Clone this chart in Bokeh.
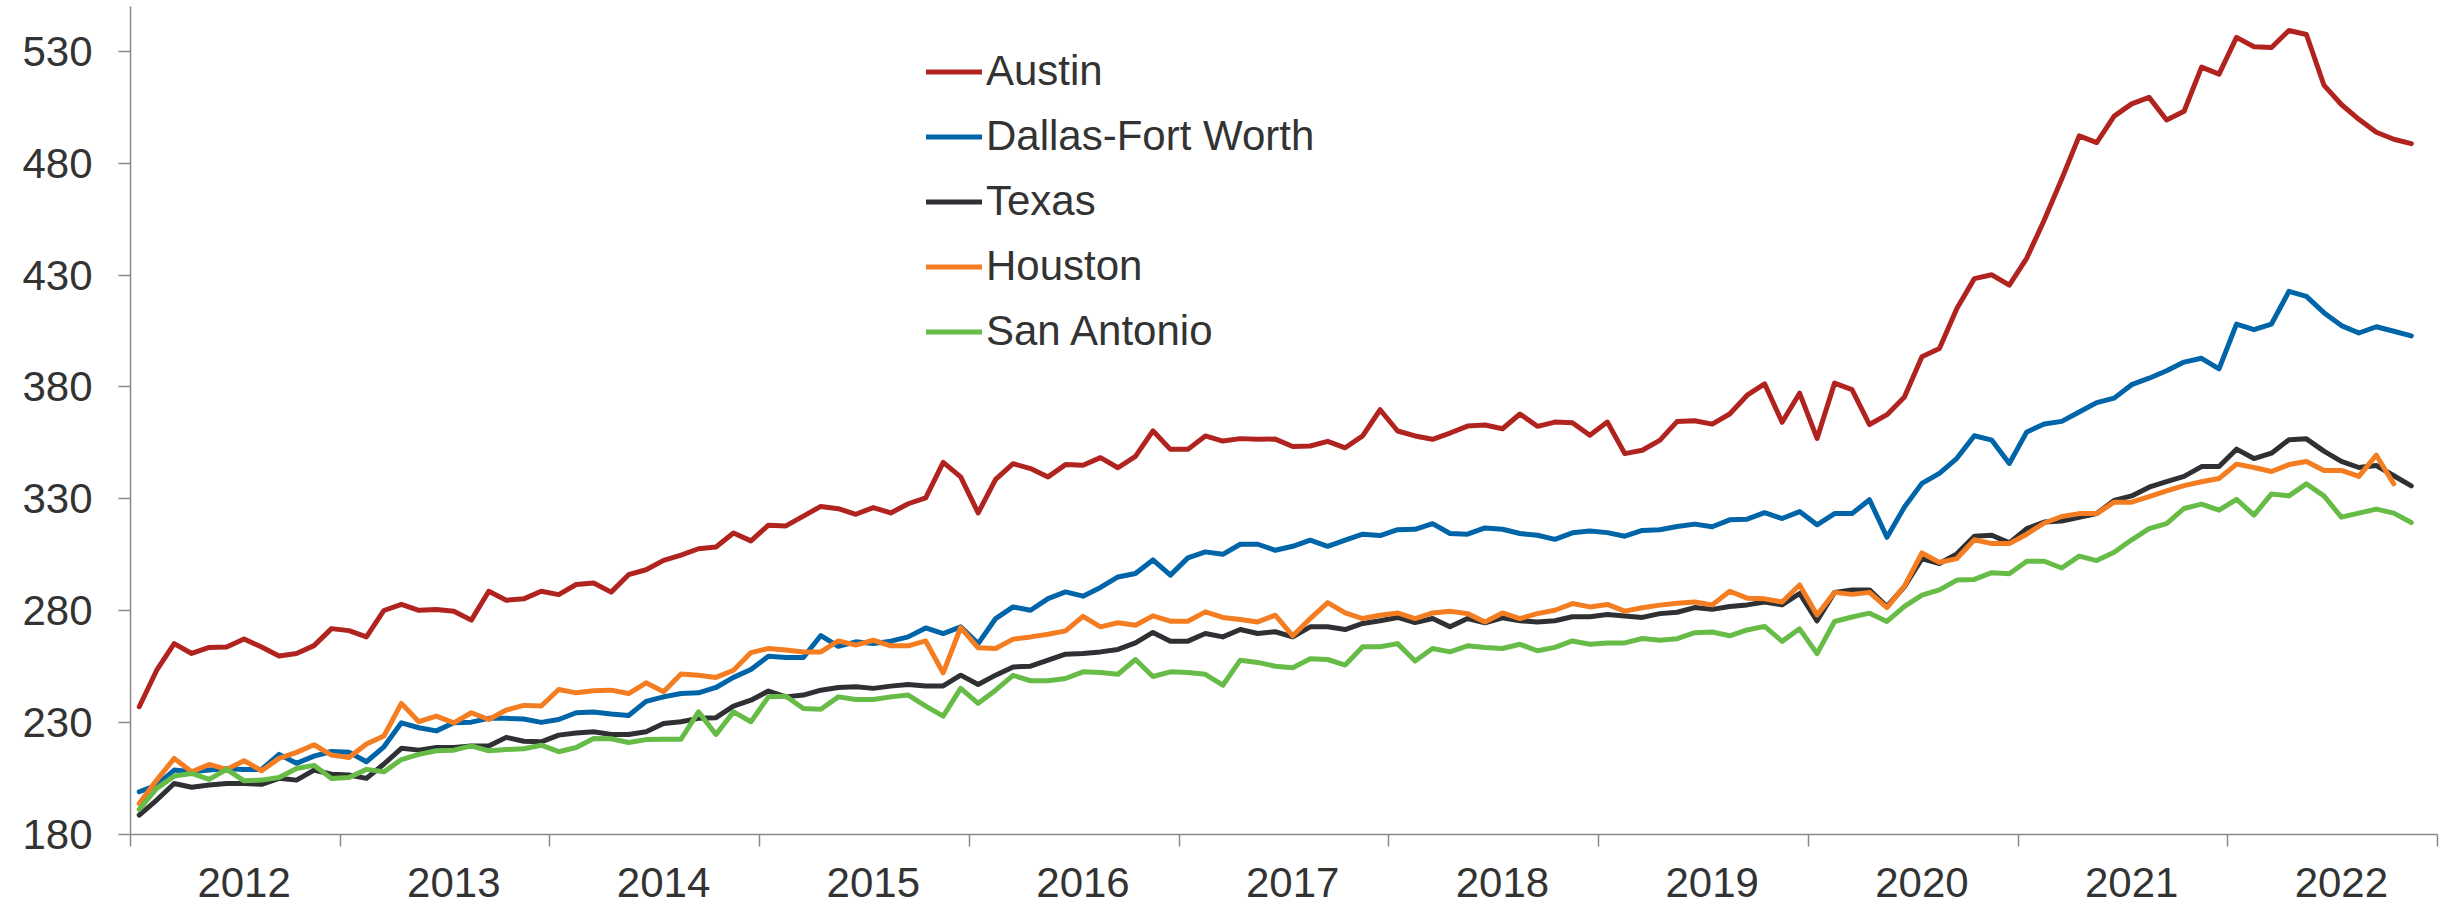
from bokeh.plotting import figure
from bokeh.models import Range1d, FixedTicker, Legend, LegendItem
from bokeh.embed import file_html
from bokeh.resources import INLINE

# Monthly index values, Jan 2012 .. Nov 2022 (Houston through Oct 2022)
austin = [237.1, 253.4, 265.3, 260.9, 263.6, 263.8, 267.4, 263.8, 259.8, 260.9, 264.4, 272.0,
          271.1, 268.3, 280.1, 282.8, 280.2, 280.5, 279.8, 275.8, 288.7, 284.7, 285.3, 288.7,
          287.2, 291.7, 292.4, 288.3, 296.1, 298.3, 302.5, 304.8, 307.7, 308.5, 314.7, 311.2,
          318.2, 317.9, 322.3, 326.6, 325.6, 323.1, 326.1, 323.7, 327.8, 330.4, 346.3, 339.8,
          323.7, 338.7, 345.7, 343.5, 339.8, 345.3, 345.0, 348.4, 343.9, 349.0, 360.4, 352.1,
          352.1, 358.1, 355.8, 356.9, 356.6, 356.7, 353.4, 353.6, 355.7, 352.8, 358.1, 369.8,
          360.3, 358.1, 356.6, 359.4, 362.5, 363.0, 361.3, 367.9, 362.4, 364.3, 364.0, 358.4,
          364.3, 350.2, 351.7, 356.1, 364.6, 364.9, 363.4, 367.9, 376.3, 381.4, 364.2, 377.2,
          357.0, 381.7, 378.8, 363.2, 367.6, 375.5, 393.5, 397.2, 415.0, 428.4, 430.1, 425.5,
          437.6, 454.6, 472.9, 492.2, 489.2, 501.0, 506.5, 509.4, 499.3, 503.2, 522.9, 519.8,
          536.2, 532.0, 531.7, 539.3, 537.5, 514.9, 506.2, 499.6, 493.8, 490.7, 488.7]
dallas = [199.1, 202.1, 208.8, 208.0, 208.8, 209.4, 209.1, 209.1, 215.8, 211.8, 215.0, 217.1,
          216.8, 212.5, 219.2, 229.9, 227.7, 226.3, 229.9, 230.2, 231.9, 231.9, 231.6, 230.1,
          231.4, 234.4, 234.7, 233.8, 233.2, 239.5, 241.5, 243.0, 243.3, 245.7, 250.2, 253.7,
          259.7, 259.1, 259.1, 268.9, 264.1, 266.1, 265.3, 266.4, 268.3, 272.3, 269.8, 272.8,
          265.3, 276.5, 281.7, 280.2, 285.4, 288.4, 286.5, 290.4, 295.1, 296.6, 302.7, 295.9,
          303.6, 306.3, 305.2, 309.7, 309.7, 307.0, 308.8, 311.5, 308.8, 311.5, 314.2, 313.6,
          316.2, 316.4, 318.9, 314.5, 314.2, 317.0, 316.4, 314.5, 313.7, 311.9, 314.8, 315.6,
          314.9, 313.3, 315.9, 316.2, 317.6, 318.7, 317.5, 320.6, 320.9, 323.8, 321.2, 324.3,
          318.4, 323.4, 323.4, 329.6, 312.8, 326.3, 336.9, 341.4, 348.1, 358.2, 356.2, 345.8,
          359.9, 363.4, 364.6, 368.8, 373.0, 375.0, 381.0, 383.9, 387.2, 391.1, 392.8, 388.1,
          408.1, 405.6, 408.1, 422.7, 420.5, 413.2, 407.4, 404.1, 406.9, 404.9, 402.8]
texas = [188.7, 195.4, 202.8, 201.1, 202.1, 202.8, 202.8, 202.4, 205.1, 204.3, 208.8, 206.9,
         206.6, 205.1, 211.5, 218.5, 217.7, 218.9, 218.9, 219.5, 219.5, 223.4, 221.7, 221.4,
         224.4, 225.4, 225.9, 224.7, 224.7, 225.9, 229.6, 230.4, 231.9, 232.2, 237.4, 240.0,
         244.1, 241.5, 242.3, 244.5, 245.7, 246.0, 245.3, 246.3, 247.0, 246.4, 246.4, 251.2,
         247.0, 251.2, 254.9, 255.2, 257.9, 260.6, 260.9, 261.6, 262.7, 265.6, 270.3, 266.4,
         266.4, 269.8, 268.3, 271.6, 269.8, 270.6, 268.3, 272.8, 272.8, 271.6, 274.3, 275.5,
         277.0, 274.7, 276.5, 272.8, 276.5, 274.6, 276.8, 275.5, 275.0, 275.5, 277.3, 277.3,
         278.3, 277.6, 277.0, 278.7, 279.3, 281.4, 280.6, 281.9, 282.6, 283.9, 282.6, 287.7,
         275.5, 288.2, 289.3, 289.3, 281.9, 290.7, 303.3, 301.1, 305.4, 313.3, 313.7, 310.3,
         316.7, 319.6, 320.1, 321.7, 323.4, 329.3, 331.3, 335.2, 337.7, 340.0, 344.4, 344.4,
         352.2, 348.0, 350.4, 356.4, 356.8, 351.3, 346.7, 344.0, 344.9, 340.3, 335.8]
houston = [193.9, 204.3, 214.0, 208.0, 211.3, 209.1, 213.0, 208.5, 214.0, 216.7, 220.1, 215.5,
           214.4, 220.4, 224.0, 238.6, 230.4, 232.9, 229.9, 234.4, 231.4, 235.6, 237.7, 237.4,
           244.8, 243.3, 244.2, 244.5, 243.0, 247.8, 243.8, 251.7, 251.2, 250.2, 253.4, 261.3,
           263.1, 262.4, 261.6, 261.6, 266.5, 264.6, 266.8, 264.3, 264.3, 266.5, 252.2, 272.5,
           263.4, 263.1, 267.3, 268.3, 269.5, 271.0, 277.5, 272.8, 274.6, 273.5, 277.7, 275.3,
           275.3, 279.5, 277.0, 276.1, 275.0, 278.0, 268.8, 276.5, 283.6, 279.0, 276.5, 278.0,
           279.0, 276.5, 279.0, 279.8, 278.7, 275.0, 279.0, 276.5, 278.7, 280.2, 283.2, 281.7,
           282.8, 279.8, 281.3, 282.5, 283.3, 283.9, 282.6, 288.7, 285.6, 285.3, 283.9, 291.5,
           278.1, 288.2, 287.3, 288.2, 281.4, 291.0, 305.8, 301.6, 303.3, 311.7, 310.0, 310.0,
           314.2, 319.2, 322.1, 323.4, 323.4, 328.5, 328.5, 331.0, 333.5, 335.9, 337.6, 339.1,
           345.5, 344.0, 342.2, 345.3, 346.7, 342.7, 342.7, 340.0, 349.5, 336.7]
san_antonio = [191.2, 200.6, 206.1, 207.3, 204.6, 209.1, 204.0, 204.3, 205.5, 209.5, 210.9, 205.0,
               205.5, 209.1, 208.0, 213.5, 215.8, 217.4, 217.7, 219.6, 217.4, 218.0, 218.3, 219.9,
               217.0, 218.9, 222.9, 222.8, 221.1, 222.4, 222.6, 222.6, 234.8, 224.7, 234.8, 230.4,
               241.5, 241.8, 236.3, 236.0, 241.5, 240.3, 240.3, 241.5, 242.3, 237.4, 232.9, 245.3,
               238.6, 244.5, 251.1, 248.7, 248.7, 249.7, 252.7, 252.4, 251.6, 258.2, 250.6, 252.7,
               252.4, 251.6, 246.7, 257.9, 256.9, 255.2, 254.5, 258.5, 258.2, 255.7, 263.9, 263.9,
               265.3, 257.5, 263.1, 261.6, 264.3, 263.6, 263.1, 265.0, 262.1, 263.6, 266.5, 265.0,
               265.6, 265.6, 267.6, 266.8, 267.5, 270.2, 270.5, 268.8, 271.4, 273.0, 266.3, 271.9,
               260.8, 275.2, 277.2, 278.9, 275.2, 281.9, 287.0, 289.3, 293.7, 294.0, 297.0, 296.5,
               302.1, 302.1, 299.1, 304.4, 302.4, 306.1, 311.7, 316.7, 318.9, 325.7, 327.6, 324.9,
               329.8, 322.7, 332.2, 331.3, 336.7, 331.3, 321.8, 323.6, 325.4, 323.6, 319.4]

years = ["2012", "2013", "2014", "2015", "2016", "2017", "2018", "2019", "2020", "2021", "2022"]
y_ticks = [180, 230, 280, 330, 380, 430, 480, 530]

series = [
    ("Austin", austin, "#B0231F"),
    ("Dallas-Fort Worth", dallas, "#0064A8"),
    ("Texas", texas, "#2E3033"),
    ("Houston", houston, "#F47D22"),
    ("San Antonio", san_antonio, "#67BC47"),
]

FONT = "Liberation Sans"
TXT = "#333333"
AX = "#8a8a8a"

n_months = 12 * len(years)
p = figure(width=2461, height=904, x_range=Range1d(0, n_months), y_range=Range1d(180, 550),
           output_backend="svg", toolbar_location=None,
           min_border_left=130, min_border_right=24, min_border_top=6, min_border_bottom=70)
p.outline_line_color = None
p.xgrid.visible = False
p.ygrid.visible = False

items = []
for name, vals, color in series:
    xs = [i + 0.5 for i in range(len(vals))]
    r = p.line(xs, vals, line_color=color, line_width=5, line_join="round", line_cap="round")
    items.append(LegendItem(label=name, renderers=[r]))

# x axis: year-boundary ticks, year labels under the middle (July) of each year
centers = [12 * k + 6.5 for k in range(len(years))]
bounds = [12 * k for k in range(len(years) + 1)]
p.xaxis.ticker = FixedTicker(ticks=centers, minor_ticks=bounds)
p.xaxis.major_label_overrides = {c: y for c, y in zip(centers, years)}
p.xaxis.major_tick_out = 0
p.xaxis.major_tick_in = 0
p.xaxis.minor_tick_out = 12
p.xaxis.minor_tick_in = 0
p.xaxis.minor_tick_line_color = AX
p.xaxis.minor_tick_line_width = 1.5
p.xaxis.axis_line_color = AX
p.xaxis.axis_line_width = 1.5
p.xaxis.major_label_standoff = 21
p.xaxis.major_label_text_font = FONT
p.xaxis.major_label_text_font_size = "42px"
p.xaxis.major_label_text_color = TXT

p.yaxis.ticker = FixedTicker(ticks=y_ticks, minor_ticks=[])
p.yaxis.major_tick_out = 12
p.yaxis.major_tick_in = 0
p.yaxis.major_tick_line_color = AX
p.yaxis.major_tick_line_width = 1.5
p.yaxis.minor_tick_line_color = None
p.yaxis.axis_line_color = AX
p.yaxis.axis_line_width = 1.5
p.yaxis.major_label_standoff = 26
p.yaxis.major_label_text_font = FONT
p.yaxis.major_label_text_font_size = "42px"
p.yaxis.major_label_text_color = TXT

legend = Legend(items=items, location=(796, 479))
legend.label_text_font = FONT
legend.label_text_font_size = "42px"
legend.label_text_color = TXT
legend.glyph_width = 56
legend.glyph_height = 47
legend.label_height = 47
legend.label_standoff = 4
legend.spacing = 17
legend.padding = 0
legend.margin = 0
legend.border_line_alpha = 0
legend.background_fill_alpha = 0
p.add_layout(legend)

open("out.html", "w").write(file_html(p, INLINE))
